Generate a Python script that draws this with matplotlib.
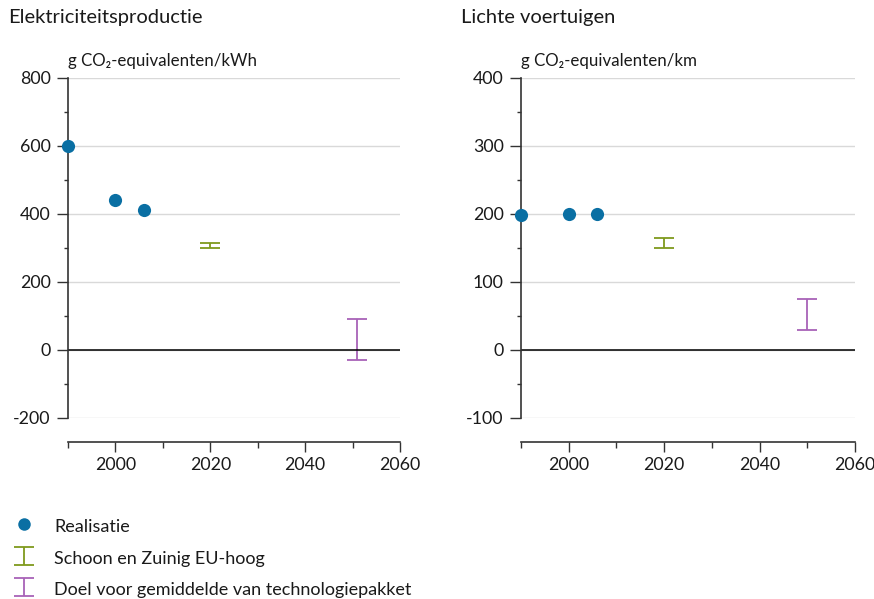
import matplotlib
matplotlib.use("Agg")
import matplotlib.pyplot as plt
from matplotlib.lines import Line2D
from matplotlib.ticker import MultipleLocator

plt.rcParams["font.family"] = ["Lato", "DejaVu Sans"]
plt.rcParams["axes.unicode_minus"] = False

# realisatie (dots)
elek_years = [1990, 2000, 2006]
elek_vals = [600, 441, 412]
auto_years = [1990, 2000, 2006]
auto_vals = [199, 200, 200]

# Schoon en Zuinig EU-hoog (range)
elek_sz_year = 2020
elek_sz_range = (300, 315)
auto_sz_year = 2020
auto_sz_range = (150, 165)

# Doel voor gemiddelde van technologiepakket (range)
elek_doel_year = 2051
elek_doel_range = (-30, 90)
auto_doel_year = 2050
auto_doel_range = (30, 75)

BLUE = "#0a6fa3"
GREEN = "#7f9a1c"
PURPLE = "#a862b8"
GRID = "#d9d9d9"
TXT = "#1a1a1a"

fig = plt.figure(figsize=(8.74, 5.99), dpi=100)


def range_bar(ax, year, rng, color, capw):
    lo, hi = rng
    mid = (lo + hi) / 2
    return ax.errorbar([year], [mid], yerr=[[mid - lo], [hi - mid]], fmt="none",
                       ecolor=color, elinewidth=1.3, capsize=capw, capthick=1.3)


def style_axes(ax, ylim, ymajor, yminor, unit):
    ax.set_xlim(1990, 2060)
    ax.set_ylim(*ylim)
    ax.yaxis.set_major_locator(MultipleLocator(ymajor))
    ax.yaxis.set_minor_locator(MultipleLocator(yminor))
    ax.set_xticks([2000, 2020, 2040, 2060])
    ax.set_xticks([1990, 2010, 2030, 2050], minor=True)
    for s in ["top", "right"]:
        ax.spines[s].set_visible(False)
    # x axis sits a bit below the plot area (24 px)
    ax.spines["bottom"].set_position(("outward", 17.3))
    ax.spines["left"].set_color("#333333")
    ax.spines["bottom"].set_color("#333333")
    ax.spines["left"].set_linewidth(1.2)
    ax.spines["bottom"].set_linewidth(1.2)
    ax.tick_params(axis="y", which="major", length=8, width=1, color="#333333",
                   labelsize=12.8, labelcolor=TXT, pad=4.5)
    ax.tick_params(axis="y", which="minor", length=3, width=1, color="#333333")
    ax.tick_params(axis="x", which="major", length=7.5, width=1, color="#333333",
                   labelsize=12.8, labelcolor=TXT, pad=3)
    ax.tick_params(axis="x", which="minor", length=4, width=1, color="#333333")
    ax.grid(axis="y", which="major", color=GRID, linewidth=1)
    ax.set_axisbelow(True)
    ax.axhline(0, color="black", linewidth=1.1, zorder=2)
    ax.text(0.0, 1.025, unit, transform=ax.transAxes, fontsize=12.2, color=TXT,
            ha="left", va="bottom")


ax1 = fig.add_axes([0.0778, 0.3022, 0.3799, 0.5676])
ax2 = fig.add_axes([0.5961, 0.3022, 0.3822, 0.5676])

ax1.scatter(elek_years, elek_vals, s=90, color=BLUE, zorder=5, clip_on=False,
            linewidths=0)
sz = range_bar(ax1, elek_sz_year, elek_sz_range, GREEN, 7)
doel = range_bar(ax1, elek_doel_year, elek_doel_range, PURPLE, 7)
style_axes(ax1, (-200, 800), 200, 100, "g CO\u2082-equivalenten/kWh")

ax2.scatter(auto_years, auto_vals, s=90, color=BLUE, zorder=5, clip_on=False,
            linewidths=0)
range_bar(ax2, auto_sz_year, auto_sz_range, GREEN, 7)
range_bar(ax2, auto_doel_year, auto_doel_range, PURPLE, 7)
style_axes(ax2, (-100, 400), 100, 50, "g CO\u2082-equivalenten/km")

fig.text(8 / 874, 1 - 18 / 599, "Elektriciteitsproductie", fontsize=14.5, color=TXT,
         ha="left", va="center")
fig.text(461 / 874, 1 - 18 / 599, "Lichte voertuigen", fontsize=14.5, color=TXT,
         ha="left", va="center")

dot_handle = Line2D([], [], marker="o", linestyle="none", markersize=9,
                    markerfacecolor=BLUE, markeredgewidth=0)
leg = fig.legend([dot_handle, sz, doel],
                 ["Realisatie", "Schoon en Zuinig EU-hoog",
                  "Doel voor gemiddelde van technologiepakket"],
                 loc="upper left", bbox_to_anchor=(0.0, 0.159), frameon=False,
                 fontsize=13, handlelength=1.3, handletextpad=1.0,
                 labelspacing=0.65, borderaxespad=0.3, handleheight=1.3)
for t in leg.get_texts():
    t.set_color(TXT)

fig.savefig("out.png", dpi=100)
